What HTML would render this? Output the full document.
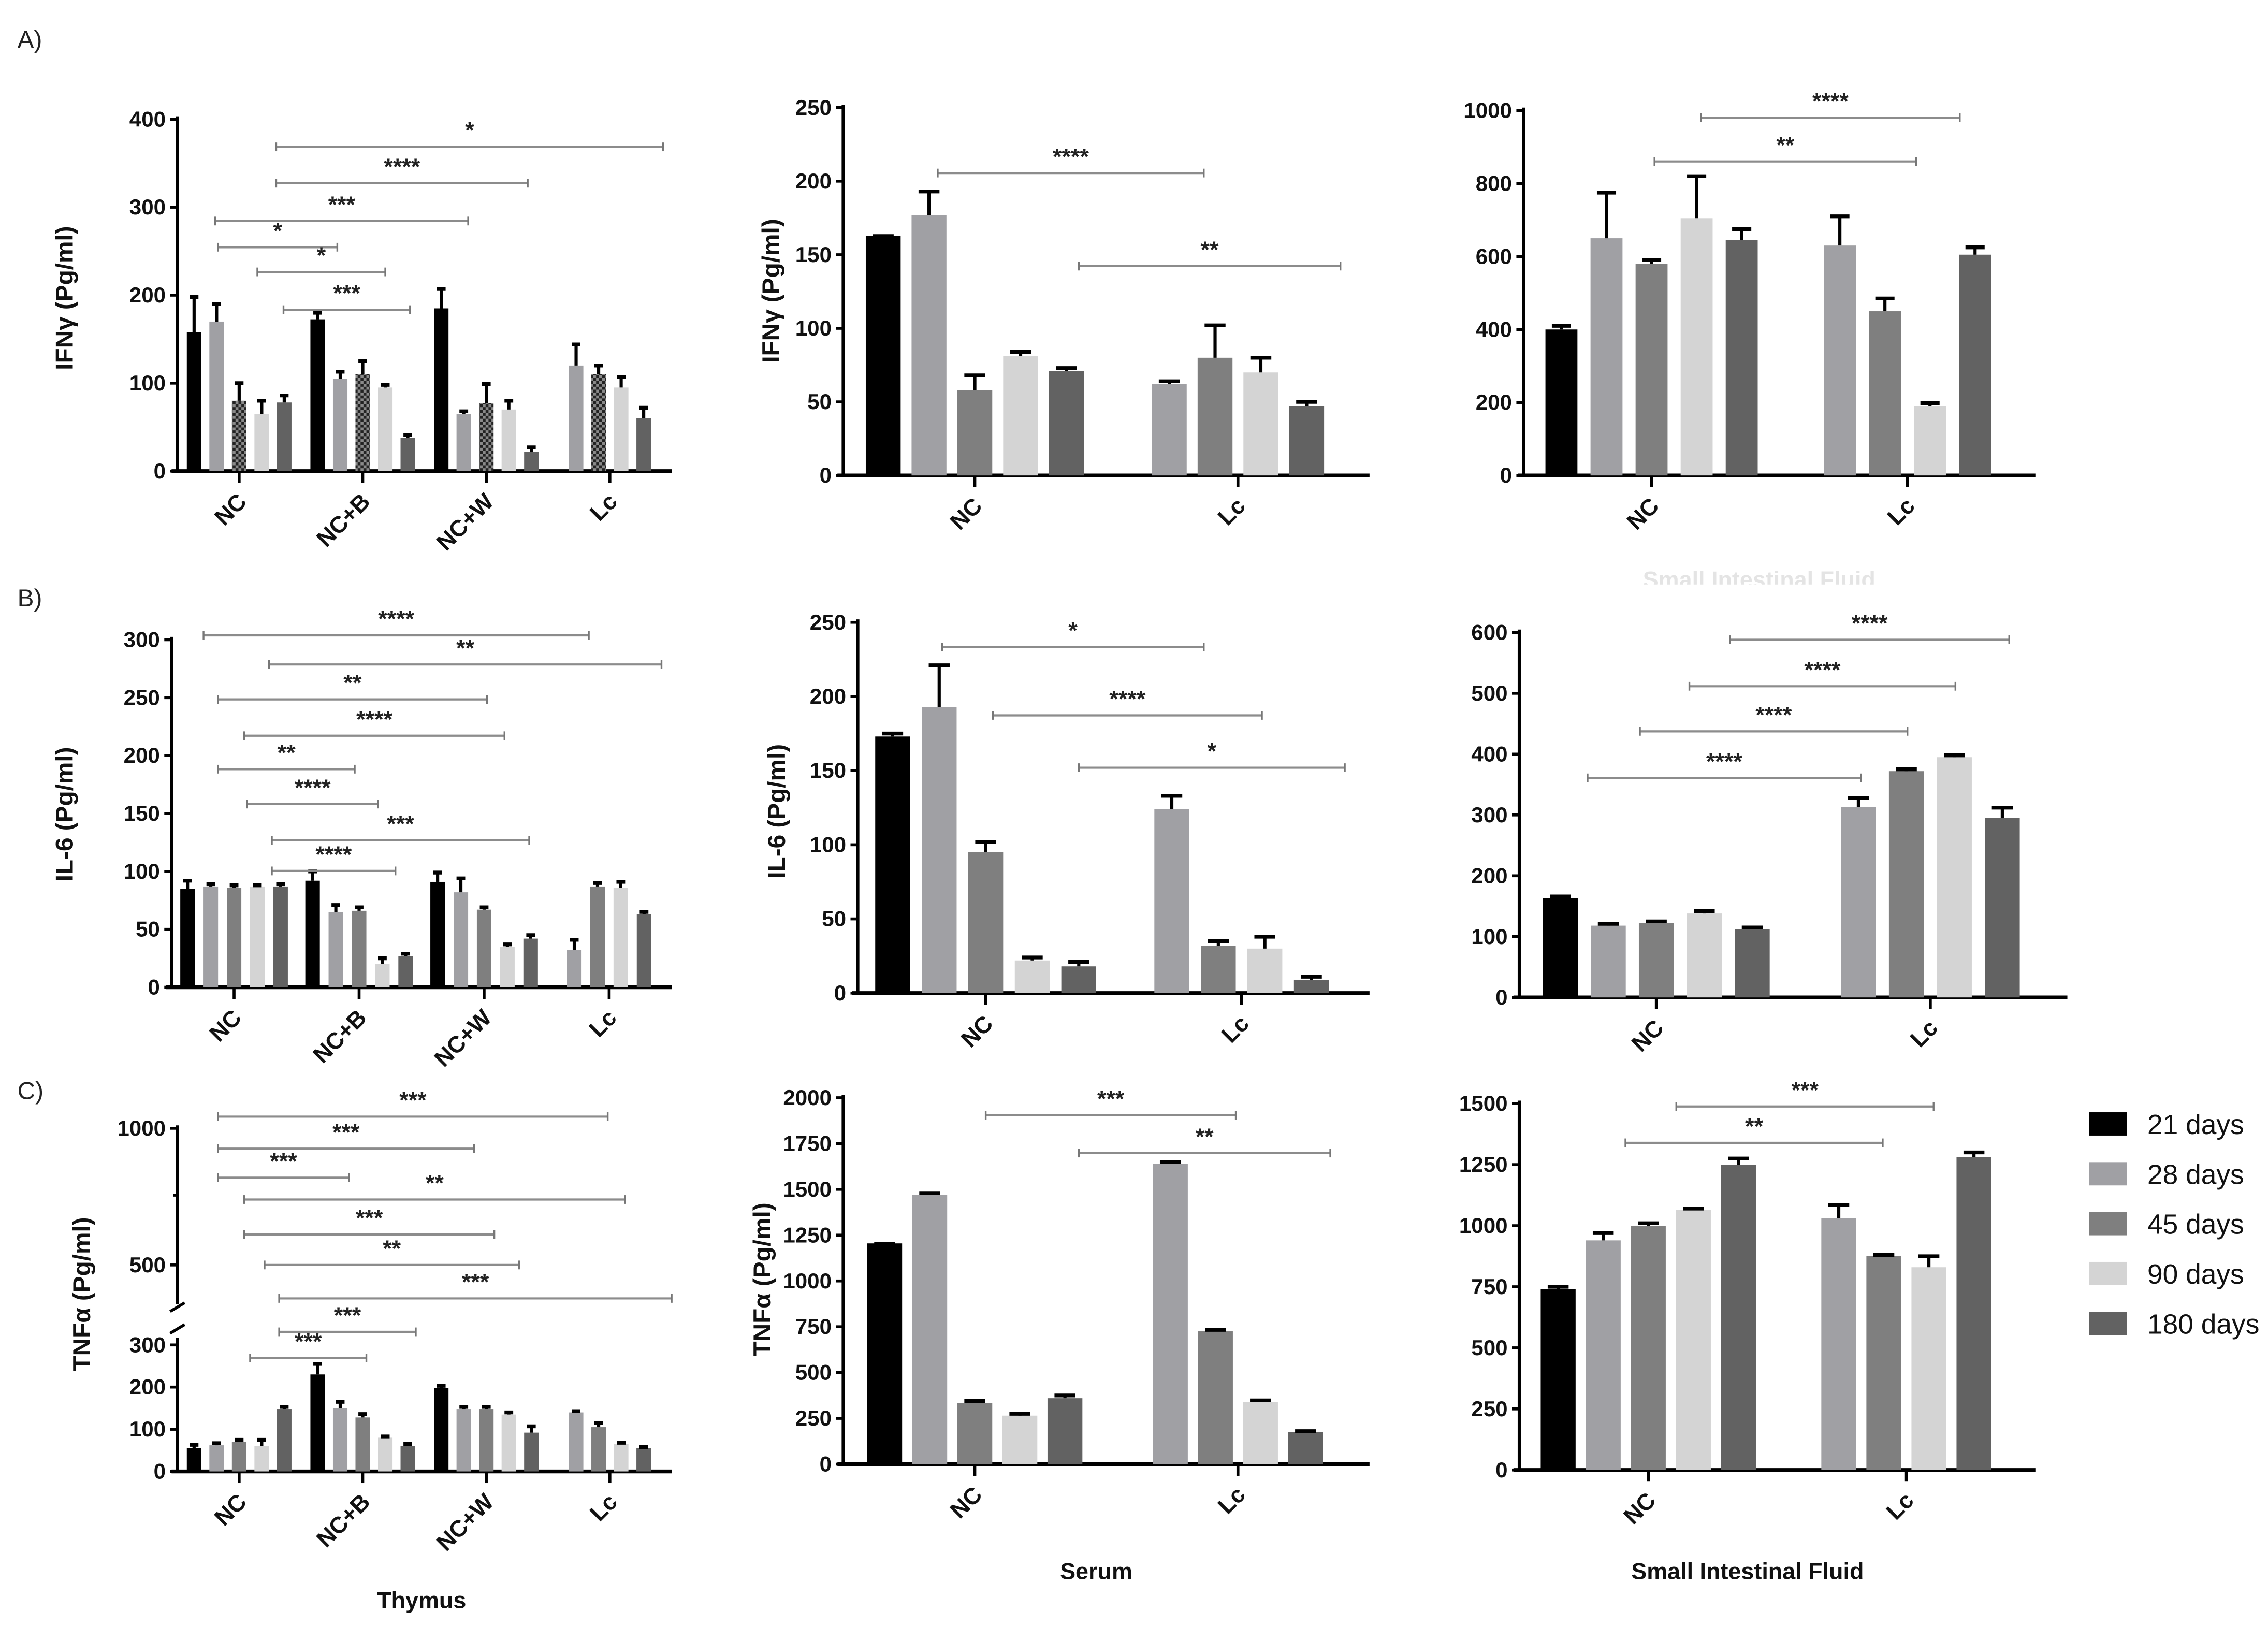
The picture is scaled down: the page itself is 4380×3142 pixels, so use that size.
<!DOCTYPE html>
<html><head><meta charset="utf-8"><style>
html,body{margin:0;padding:0;background:#fff}
svg{display:block}
text{font-family:"Liberation Sans",Arial,sans-serif}
</style></head><body>
<svg id="fig" width="4380" height="3142" viewBox="0 0 1560 1119" preserveAspectRatio="none" xmlns="http://www.w3.org/2000/svg">
<defs>
<pattern id="check" width="4" height="4" patternUnits="userSpaceOnUse">
<rect width="4" height="4" fill="#8a8a8a"/><rect width="2" height="2" fill="#222"/><rect x="2" y="2" width="2" height="2" fill="#222"/>
</pattern>
<clipPath id="ghostclip"><rect x="1000" y="392" width="400" height="10"/></clipPath>
</defs>
<g id="root"></g>
</svg>
<script>
const series = ["21 days","28 days","45 days","90 days","180 days"];
const colors = ["#000000","#a0a0a4","#7f7f7f","#d4d4d4","#626262"];

const a1_cats = ["NC","NC+B","NC+W","Lc"];
const a1_vals = [[158,170,80,65,78],[172,105,110,95,38],[185,65,77,70,22],[null,120,110,95,60]];
const a1_errs = [[40,20,20,15,8],[8,8,15,3,3],[22,3,22,10,5],[0,24,10,12,12]];
const a1_ticks = [0,100,200,300,400];
const a2_cats = ["NC","Lc"];
const a2_vals = [[163,177,58,81,71],[null,62,80,70,47]];
const a2_errs = [[0,16,10,3,2],[0,2,22,10,3]];
const a2_ticks = [0,50,100,150,200,250];
const a3_cats = ["NC","Lc"];
const a3_vals = [[400,650,580,705,645],[null,630,450,190,605]];
const a3_errs = [[10,125,10,115,30],[0,80,35,8,20]];
const a3_ticks = [0,200,400,600,800,1000];

const b1_cats = ["NC","NC+B","NC+W","Lc"];
const b1_vals = [[85,87,86,87,87],[92,65,66,20,27],[91,82,67,35,42],[null,32,87,86,63]];
const b1_errs = [[7,2,2,1,2],[8,6,3,5,2],[8,12,2,2,3],[0,9,3,5,2]];
const b1_ticks = [0,50,100,150,200,250,300];
const b2_cats = ["NC","Lc"];
const b2_vals = [[173,193,95,22,18],[null,124,32,30,9]];
const b2_errs = [[2,28,7,2,3],[0,9,3,8,2]];
const b2_ticks = [0,50,100,150,200,250];
const b3_cats = ["NC","Lc"];
const b3_vals = [[163,118,122,138,112],[null,313,372,395,295]];
const b3_errs = [[3,3,3,4,3],[0,15,3,3,17]];
const b3_ticks = [0,100,200,300,400,500,600];

const c1_cats = ["NC","NC+B","NC+W","Lc"];
const c1_vals = [[55,62,70,60,148],[230,150,128,80,60],[198,148,148,135,92],[null,140,105,65,55]];
const c1_errs = [[8,5,5,15,5],[25,15,8,3,5],[5,5,5,5,15],[0,3,10,3,3]];
const c1_ticks = [0,100,200,300,500,1000];
const c2_cats = ["NC","Lc"];
const c2_vals = [[1205,1470,335,265,360],[null,1640,725,340,175]];
const c2_errs = [[0,10,10,10,15],[0,10,8,8,5]];
const c2_ticks = [0,250,500,750,1000,1250,1500,1750,2000];
const c3_cats = ["NC","Lc"];
const c3_vals = [[740,940,1000,1065,1250],[null,1030,875,830,1280]];
const c3_errs = [[10,30,10,5,25],[0,55,5,45,20]];
const c3_ticks = [0,250,500,750,1000,1250,1500];

const NS="http://www.w3.org/2000/svg";
const root=document.getElementById('root');
function mk(tag,attrs,parent,txt){const e=document.createElementNS(NS,tag);for(const k in attrs)e.setAttribute(k,attrs[k]);if(txt!==undefined)e.textContent=txt;(parent||root).appendChild(e);return e;}

function panel(p){
  const g=mk('g',{});
  
  
  const y=p.y;
  const ax=mk('line',{x1:p.x0,x2:p.x0,y1:p.axTop,y2:p.y0+1,stroke:'#000','stroke-width':2.2},g);
  
  
  if(p.axTop2!==undefined){mk('line',{x1:p.x0,x2:p.x0,y1:p.axTop2,y2:p.axBot2,stroke:'#000','stroke-width':2.2},g);}
  p.ticks.forEach(t=>{
    const ty=y(t);
    mk('line',{x1:p.x0-5,x2:p.x0,y1:ty,y2:ty,stroke:'#000','stroke-width':2},g);
    const tl=mk('text',{x:p.x0-8,y:ty+5,'text-anchor':'end','font-size':15,'font-weight':'bold',fill:'#111'},g,String(t));
    
    
  });
  const xa=mk('line',{x1:p.x0-4,x2:p.x1,y1:p.y0,y2:p.y0,stroke:'#000','stroke-width':2.6},g);
  
  
  const band=(p.x1-p.x0)/p.cats.length;
  p.cats.forEach((c,gi)=>{
    const cx=p.x0+band*(gi+0.5);
    mk('line',{x1:cx,x2:cx,y1:p.y0,y2:p.y0+8,stroke:'#000','stroke-width':2},g);
    const lab=mk('text',{x:cx+6,y:p.y0+22,'text-anchor':'end','font-size':16,'font-weight':'bold',fill:'#111',transform:`rotate(-45 ${cx+6} ${p.y0+22})`},g,c);
    
    
    const vals=p.vals[gi],errs=p.errs[gi];
    const idx=[];vals.forEach((v,i)=>{if(v!==null)idx.push(i);});
    idx.forEach((si,k)=>{
      const bx=cx+(k-(idx.length-1)/2)*p.sp;
      const v=vals[si],top=y(v);
      const fill=(p.checkered&&si===2)?'url(#check)':colors[si];
      const r=mk('rect',{x:bx-p.bw/2,y:top,width:p.bw,height:p.y0-top,fill:fill},g);
      
      
      const e=errs[si];
      if(e>0){
        const et=y(v+e);
        mk('line',{x1:bx,x2:bx,y1:top,y2:et,stroke:'#000','stroke-width':2.2},g);
        mk('line',{x1:bx-p.bw*0.3,x2:bx+p.bw*0.3,y1:et,y2:et,stroke:'#000','stroke-width':2.6},g);
      } else {
        mk('line',{x1:bx-p.bw*0.3,x2:bx+p.bw*0.3,y1:top,y2:top,stroke:'#000','stroke-width':2},g);
      }
    });
  });
  (p.sig||[]).forEach(s=>{
    const [sy,xa1,xb,st]=s;
    const sl=mk('line',{x1:xa1,x2:xb,y1:sy,y2:sy,stroke:'#8c8c8c','stroke-width':1.5},g);
    
    
    mk('line',{x1:xa1,x2:xa1,y1:sy-3,y2:sy+3,stroke:'#777','stroke-width':1.2},g);
    mk('line',{x1:xb,x2:xb,y1:sy-3,y2:sy+3,stroke:'#777','stroke-width':1.2},g);
    const st_=mk('text',{x:(xa1+xb)/2,y:sy-6,'text-anchor':'middle','font-size':16,'font-weight':'bold',fill:'#222'},g,st);
    
    
  });
  if(p.title){
    const tt=mk('text',{x:p.title[0],y:p.title[1],'text-anchor':'middle','font-size':17,'font-weight':'bold',fill:'#111',transform:`rotate(-90 ${p.title[0]} ${p.title[1]})`},g,p.title[2]);
    
    
  }
}
function lin(y0,ytop,vmax){return v=>y0-(v/vmax)*(y0-ytop);}

panel({name:'panel-a1-thymus-ifng',x0:122,x1:462,y0:324,axTop:80,y:lin(324,82,400),ticks:a1_ticks,cats:a1_cats,vals:a1_vals,errs:a1_errs,sp:15.5,bw:10,checkered:true,title:[50,205,'IFNγ (Pg/ml)'],
 sig:[[101,190,456,'*'],[126,190,363,'****'],[152,148,322,'***'],[170,150,232,'*'],[187,177,265,'*'],[213,195,282,'***']]});
panel({name:'panel-a2-serum-ifng',x0:580,x1:942,y0:327,axTop:72,y:lin(327,74,250),ticks:a2_ticks,cats:a2_cats,vals:a2_vals,errs:a2_errs,sp:31.5,bw:24,title:[536,200,'IFNγ (Pg/ml)'],
 sig:[[119,645,828,'****'],[183,742,922,'**']]});
panel({name:'panel-a3-sif-ifng',x0:1048,x1:1400,y0:327,axTop:74,y:lin(327,76,1000),ticks:a3_ticks,cats:a3_cats,vals:a3_vals,errs:a3_errs,sp:31,bw:22,
 sig:[[81,1170,1348,'****'],[111,1138,1318,'**']]});

panel({name:'panel-b1-thymus-il6',x0:118,x1:462,y0:679,axTop:438,y:lin(679,440,300),ticks:b1_ticks,cats:b1_cats,vals:b1_vals,errs:b1_errs,sp:16,bw:10,title:[50,560,'IL-6 (Pg/ml)'],
 sig:[[437,140,405,'****'],[457,185,455,'**'],[481,150,335,'**'],[506,168,347,'****'],[529,150,244,'**'],[553,170,260,'****'],[578,187,364,'***'],[599,187,272,'****']]});
panel({name:'panel-b2-serum-il6',x0:590,x1:942,y0:683,axTop:426,y:lin(683,428,250),ticks:b2_ticks,cats:b2_cats,vals:b2_vals,errs:b2_errs,sp:32,bw:24,title:[540,558,'IL-6 (Pg/ml)'],
 sig:[[445,648,828,'*'],[492,683,868,'****'],[528,742,925,'*']]});
panel({name:'panel-b3-sif-il6',x0:1045,x1:1422,y0:686,axTop:433,y:lin(686,435,600),ticks:b3_ticks,cats:b3_cats,vals:b3_vals,errs:b3_errs,sp:33,bw:24,
 sig:[[440,1190,1382,'****'],[472,1162,1345,'****'],[503,1128,1312,'****'],[535,1092,1280,'****']]});

const c1y=v=>v<=300?1012-v*0.29:870-(v-500)*0.188;
panel({name:'panel-c1-thymus-tnfa',x0:122,x1:462,y0:1012,axTop:920,axTop2:774,axBot2:897,y:c1y,ticks:c1_ticks,cats:c1_cats,vals:c1_vals,errs:c1_errs,sp:15.5,bw:10,title:[62,890,'TNFα (Pg/ml)'],
 sig:[[768,150,418,'***'],[790,150,326,'***'],[810,150,240,'***'],[825,168,430,'**'],[849,168,340,'***'],[870,182,357,'**'],[893,192,462,'***'],[916,192,286,'***'],[934,172,252,'***']]});
mk('line',{x1:117,x2:127,y1:902,y2:896,stroke:'#000','stroke-width':2});
mk('line',{x1:117,x2:127,y1:917,y2:911,stroke:'#000','stroke-width':2});
mk('line',{x1:119,x2:122,y1:822,y2:822,stroke:'#000','stroke-width':2});
panel({name:'panel-c2-serum-tnfa',x0:580,x1:942,y0:1007,axTop:753,y:lin(1007,755,2000),ticks:c2_ticks,cats:c2_cats,vals:c2_vals,errs:c2_errs,sp:31,bw:24,title:[530,880,'TNFα (Pg/ml)'],
 sig:[[767,678,850,'***'],[793,742,915,'**']]});
panel({name:'panel-c3-sif-tnfa',x0:1045,x1:1400,y0:1011,axTop:757,y:lin(1011,759,1500),ticks:c3_ticks,cats:c3_cats,vals:c3_vals,errs:c3_errs,sp:31,bw:24,
 sig:[[761,1153,1330,'***'],[786,1118,1295,'**']]});

series.forEach((s,i)=>{
  const ly=773+i*34.3;
  const r=mk('rect',{x:1437,y:ly-8,width:26,height:16,fill:colors[i]});
  
  
  const t=mk('text',{x:1477,y:ly+7,'font-size':19,fill:'#111'},root,s);
  
  
});
[['A)',12,33],['B)',12,417],['C)',12,756]].forEach(l=>{
  const t=mk('text',{x:l[1],y:l[2],'font-size':17,fill:'#222'},root,l[0]);
  
  
});
[['Thymus',290,1106],['Serum',754,1086],['Small Intestinal Fluid',1202,1086]].forEach(l=>{
  const t=mk('text',{x:l[1],y:l[2],'text-anchor':'middle','font-size':16,'font-weight':'bold',fill:'#111'},root,l[0]);
  
  
});
const ghost=mk('text',{x:1210,y:404,'text-anchor':'middle','font-size':16,'font-weight':'bold',fill:'#e4e4e4','clip-path':'url(#ghostclip)'},root,'Small Intestinal Fluid');


</script>
</body></html>
